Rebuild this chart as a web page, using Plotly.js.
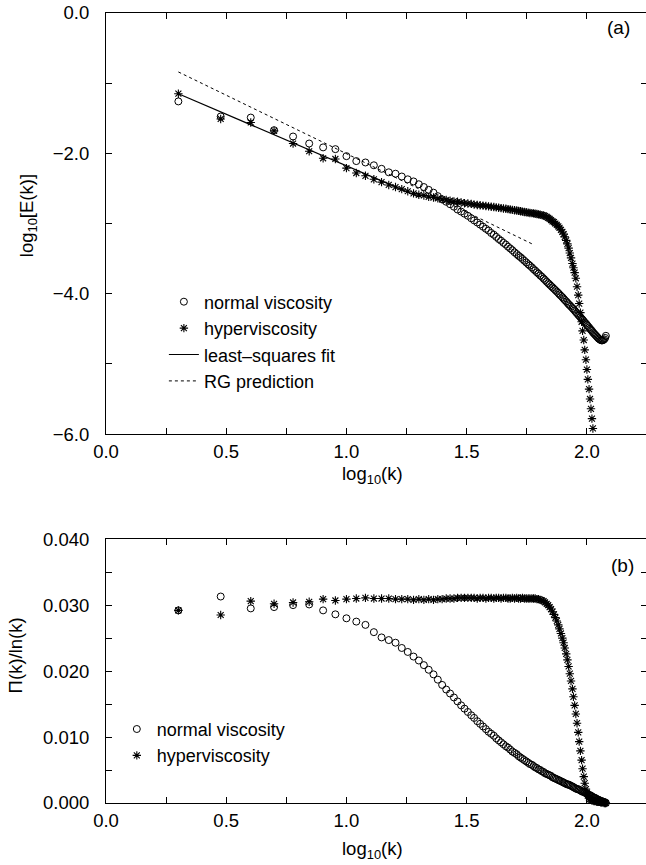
<!DOCTYPE html>
<html>
<head>
<meta charset="utf-8">
<script src="https://cdn.plot.ly/plotly-3.0.1.min.js"></script>
<style>
html, body { margin: 0; padding: 0; overflow: hidden; background: #fff; }
#chart { width: 660px; height: 865px; }
</style>
</head>
<body>
<div id="chart"></div>
<script>
// x values: log10(k) for k = 2 ... 120
const logK = [0.301,0.477,0.602,0.699,0.778,0.845,0.903,0.954,1.000,
1.041,1.079,1.114,1.146,1.176,1.204,1.230,1.255,1.279,1.301,
1.322,1.342,1.362,1.380,1.398,1.415,1.431,1.447,1.462,1.477,
1.491,1.505,1.519,1.531,1.544,1.556,1.568,1.580,1.591,1.602,
1.613,1.623,1.633,1.643,1.653,1.663,1.672,1.681,1.690,1.699,
1.708,1.716,1.724,1.732,1.740,1.748,1.756,1.763,1.771,1.778,
1.785,1.792,1.799,1.806,1.813,1.820,1.826,1.833,1.839,1.845,
1.851,1.857,1.863,1.869,1.875,1.881,1.886,1.892,1.898,1.903,
1.908,1.914,1.919,1.924,1.929,1.934,1.940,1.944,1.949,1.954,
1.959,1.964,1.968,1.973,1.978,1.982,1.987,1.991,1.996,2.000,
2.004,2.009,2.013,2.017,2.021,2.025,2.029,2.033,2.037,2.041,
2.045,2.049,2.053,2.057,2.061,2.064,2.068,2.072,2.076,2.079];

// (a) log10[E(k)]
const energyNormal = [-1.26,-1.475,-1.49,-1.67,-1.76,-1.86,-1.915,-1.94,-2.04,
-2.11,-2.13,-2.17,-2.22,-2.27,-2.29,-2.33,-2.37,-2.40,-2.44,
-2.48,-2.52,-2.56,-2.61,-2.655,-2.69,-2.725,-2.76,-2.80,-2.83,
-2.86,-2.89,-2.925,-2.955,-2.985,-3.015,-3.045,-3.075,-3.10,-3.135,
-3.16,-3.19,-3.22,-3.245,-3.275,-3.30,-3.33,-3.355,-3.38,-3.41,
-3.435,-3.46,-3.48,-3.505,-3.53,-3.555,-3.58,-3.60,-3.625,-3.65,
-3.67,-3.695,-3.715,-3.74,-3.76,-3.785,-3.805,-3.83,-3.85,-3.87,
-3.89,-3.91,-3.93,-3.95,-3.97,-3.99,-4.01,-4.03,-4.05,-4.07,
-4.09,-4.11,-4.13,-4.15,-4.165,-4.185,-4.205,-4.22,-4.24,-4.26,
-4.28,-4.30,-4.315,-4.335,-4.355,-4.37,-4.39,-4.41,-4.425,-4.445,
-4.46,-4.48,-4.50,-4.515,-4.53,-4.55,-4.565,-4.58,-4.595,-4.61,
-4.625,-4.64,-4.65,-4.66,-4.665,-4.665,-4.66,-4.65,-4.63,-4.60];

const energyHyper = [-1.15,-1.51,-1.56,-1.68,-1.86,-1.97,-2.07,-2.08,-2.21,
-2.28,-2.32,-2.37,-2.41,-2.45,-2.48,-2.51,-2.54,-2.57,-2.59,
-2.60,-2.62,-2.63,-2.64,-2.655,-2.665,-2.675,-2.685,-2.69,-2.70,
-2.71,-2.715,-2.72,-2.73,-2.735,-2.74,-2.745,-2.75,-2.755,-2.76,
-2.765,-2.77,-2.775,-2.78,-2.785,-2.79,-2.795,-2.80,-2.805,-2.81,
-2.815,-2.82,-2.825,-2.83,-2.835,-2.84,-2.845,-2.85,-2.852,-2.855,
-2.86,-2.865,-2.87,-2.875,-2.88,-2.885,-2.895,-2.905,-2.92,-2.935,
-2.95,-2.97,-2.98,-3.00,-3.02,-3.04,-3.06,-3.09,-3.12,-3.15,
-3.19,-3.24,-3.29,-3.35,-3.42,-3.49,-3.57,-3.63,-3.70,-3.78,
-3.90,-4.02,-4.14,-4.27,-4.40,-4.53,-4.66,-4.80,-4.94,-5.08,
-5.22,-5.36,-5.50,-5.64,-5.78,-5.92,-6.06];

const fitX = [0.301, 1.301];
const fitY = [-1.15, -2.62];
const rgX = [0.301, 1.778];
const rgY = [-0.84, -3.30];

// (b) Pi(k)/ln(k)
const fluxNormal = [0.0292,0.0313,0.0295,0.0297,0.0300,0.0301,0.0292,0.0286,0.0280,
0.0275,0.0270,0.0259,0.0251,0.0247,0.0243,0.0235,0.0229,0.0222,0.0216,
0.0209,0.0202,0.0195,0.0187,0.0179,0.0172,0.0166,0.0160,0.0154,0.0148,
0.0143,0.0138,0.0133,0.0129,0.0124,0.0120,0.0116,0.0112,0.0108,0.0105,
0.0102,0.0098,0.0095,0.0092,0.0089,0.0086,0.0084,0.0081,0.0078,0.0076,
0.0074,0.0071,0.0069,0.0067,0.0065,0.0063,0.0061,0.0059,0.0058,0.0056,
0.0054,0.0053,0.0051,0.0050,0.0048,0.0047,0.0045,0.0044,0.0043,0.0042,
0.0041,0.0039,0.0038,0.0037,0.0036,0.0035,0.0034,0.0033,0.0032,0.0031,
0.0030,0.0029,0.0028,0.0028,0.0027,0.0026,0.0025,0.0024,0.0023,0.0022,
0.0021,0.0021,0.0020,0.0019,0.0018,0.0017,0.0017,0.0016,0.0015,0.0014,
0.0013,0.0012,0.0012,0.0011,0.0010,0.0009,0.0008,0.0008,0.0007,0.0006,
0.0005,0.0005,0.0004,0.0003,0.0003,0.0002,0.0002,0.0001,0.0001,0.0000];

const fluxHyper = [0.0292,0.0285,0.0306,0.0302,0.0304,0.0305,0.0309,0.0307,0.0309,
0.0310,0.0311,0.0310,0.0310,0.0310,0.0309,0.0309,0.0309,0.0308,0.0309,
0.0308,0.0309,0.0308,0.0309,0.0309,0.0310,0.0310,0.0310,0.0311,0.0311,
0.0311,0.0311,0.0311,0.0311,0.0310,0.0311,0.0311,0.0310,0.0311,0.0311,
0.0310,0.0311,0.0311,0.0310,0.0311,0.0311,0.0310,0.0310,0.0311,0.0310,
0.0311,0.0310,0.0310,0.0311,0.0310,0.0310,0.0310,0.0310,0.0310,0.0310,
0.0310,0.0309,0.0309,0.0308,0.0307,0.0306,0.0304,0.0302,0.0300,0.0297,
0.0294,0.0290,0.0286,0.0281,0.0276,0.0270,0.0264,0.0257,0.0250,0.0243,
0.0235,0.0226,0.0217,0.0207,0.0196,0.0185,0.0173,0.0161,0.0148,0.0135,
0.0121,0.0107,0.0093,0.0079,0.0065,0.0052,0.0040,0.0030,0.0021,0.0015,
0.0011,0.0008,0.0006,0.0005,0.0004,0.0004,0.0003,0.0003,0.0003,0.0002,
0.0002,0.0002,0.0002,0.0001,0.0001,0.0001,0.0001,0.0000,0.0000,0.0000];

// tick labels (major ticks); minor ticks lie halfway between
const xTickVals = [0, 0.5, 1.0, 1.5, 2.0];
const xTickText = ['0.0', '0.5', '1.0', '1.5', '2.0'];
const yaTickVals = [-6, -4, -2, 0];
const yaTickText = ['\u22126.0', '\u22124.0', '\u22122.0', '0.0'];
const ybTickVals = [0, 0.01, 0.02, 0.03, 0.04];
const ybTickText = ['0.000', '0.010', '0.020', '0.030', '0.040'];

const FONT = 'Liberation Sans, Arial, Helvetica, sans-serif';
const TICK_SIZE = 18.5;
const TEXT_SIZE = 18;
const circleMarker = {symbol:'circle-open', size:7, color:'#000', line:{width:1, color:'#000'}};
const starMarker = {symbol:'asterisk-open', size:7, color:'#000', line:{width:1.1, color:'#000'}};

const traces = [
  {x: logK.slice(0, energyNormal.length), y: energyNormal, mode:'markers', name:'normal viscosity',
   marker: circleMarker, xaxis:'x', yaxis:'y', legend:'legend'},
  {x: logK.slice(0, energyHyper.length), y: energyHyper, mode:'markers', name:'hyperviscosity',
   marker: starMarker, xaxis:'x', yaxis:'y', legend:'legend'},
  {x: fitX, y: fitY, mode:'lines', name:'least\u2013squares fit',
   line:{color:'#000', width:1.2}, xaxis:'x', yaxis:'y', legend:'legend'},
  {x: rgX, y: rgY, mode:'lines', name:'RG prediction',
   line:{color:'#000', width:1, dash:'dot'}, xaxis:'x', yaxis:'y', legend:'legend'},
  {x: logK.slice(0, fluxNormal.length), y: fluxNormal, mode:'markers', name:'normal viscosity',
   marker: circleMarker, xaxis:'x2', yaxis:'y2', legend:'legend2', cliponaxis:false},
  {x: logK.slice(0, fluxHyper.length), y: fluxHyper, mode:'markers', name:'hyperviscosity',
   marker: starMarker, xaxis:'x2', yaxis:'y2', legend:'legend2', cliponaxis:false}
];

function baseAxis() {
  return {
    tickmode:'array',
    ticks:'inside', ticklen:6, tickwidth:1, tickcolor:'#000',
    showline:true, linecolor:'#000', linewidth:1, mirror:'allticks',
    showgrid:false, zeroline:false,
    tickfont:{family:FONT, size:TICK_SIZE, color:'#000'}
  };
}
function xAxis(anchor) {
  return Object.assign(baseAxis(), {
    anchor: anchor, domain:[0,1], range:[0,2.25],
    tickvals: xTickVals, ticktext: xTickText, ticklabelstandoff:1,
    minor:{dtick:0.25, tick0:0, ticks:'inside', ticklen:6, tickwidth:1, tickcolor:'#000', showgrid:false}
  });
}
function yAxis(anchor, domain, range, vals, text, minorStep) {
  return Object.assign(baseAxis(), {
    anchor: anchor, domain: domain, range: range,
    tickvals: vals, ticktext: text, ticklabelstandoff:12,
    minor:{dtick:minorStep, tick0:0, ticks:'inside', ticklen:6, tickwidth:1, tickcolor:'#000', showgrid:false}
  });
}

const titleFont = {family:FONT, size:TICK_SIZE, color:'#000'};
const layout = {
  width:660, height:865,
  margin:{l:106, r:13, t:13, b:62},
  paper_bgcolor:'#fff', plot_bgcolor:'#fff',
  font:{family:FONT, size:TICK_SIZE, color:'#000'},
  showlegend:true,
  xaxis: xAxis('y'),
  yaxis: yAxis('x', [0.467,1], [-6,0], yaTickVals, yaTickText, 1),
  xaxis2: xAxis('y2'),
  yaxis2: yAxis('x2', [0,0.334], [0,0.04], ybTickVals, ybTickText, 0.005),
  legend:{x:0.107, y:0.6576, xanchor:'left', yanchor:'top', bgcolor:'rgba(0,0,0,0)',
          font:{family:FONT, size:TEXT_SIZE, color:'#000'}, itemwidth:30, tracegroupgap:0},
  legend2:{x:0.02, y:0.1167, xanchor:'left', yanchor:'top', bgcolor:'rgba(0,0,0,0)',
          font:{family:FONT, size:TEXT_SIZE, color:'#000'}, itemwidth:30, tracegroupgap:0},
  annotations:[
    {xref:'paper', yref:'paper', x:0.492, y:0.4147, text:'log<sub>10</sub>(k)',
     showarrow:false, xanchor:'center', yanchor:'middle', font:titleFont},
    {xref:'paper', yref:'paper', x:0.492, y:-0.0595, text:'log<sub>10</sub>(k)',
     showarrow:false, xanchor:'center', yanchor:'middle', font:titleFont},
    {xref:'paper', yref:'paper', x:-0.1442, y:0.744, text:'log<sub>10</sub>[E(k)]', textangle:-90,
     showarrow:false, xanchor:'center', yanchor:'middle', font:titleFont},
    {xref:'paper', yref:'paper', x:-0.168, y:0.187, text:'\u03A0(k)/ln(k)', textangle:-90,
     showarrow:false, xanchor:'center', yanchor:'middle', font:titleFont},
    {xref:'paper', yref:'paper', x:0.948, y:0.982, text:'(a)', showarrow:false,
     xanchor:'center', yanchor:'middle', font:{family:FONT, size:19, color:'#000'}},
    {xref:'paper', yref:'paper', x:0.955, y:0.301, text:'(b)', showarrow:false,
     xanchor:'center', yanchor:'middle', font:{family:FONT, size:19, color:'#000'}}
  ]
};

Plotly.newPlot('chart', traces, layout, {displayModeBar:false, staticPlot:true});
</script>
</body>
</html>
